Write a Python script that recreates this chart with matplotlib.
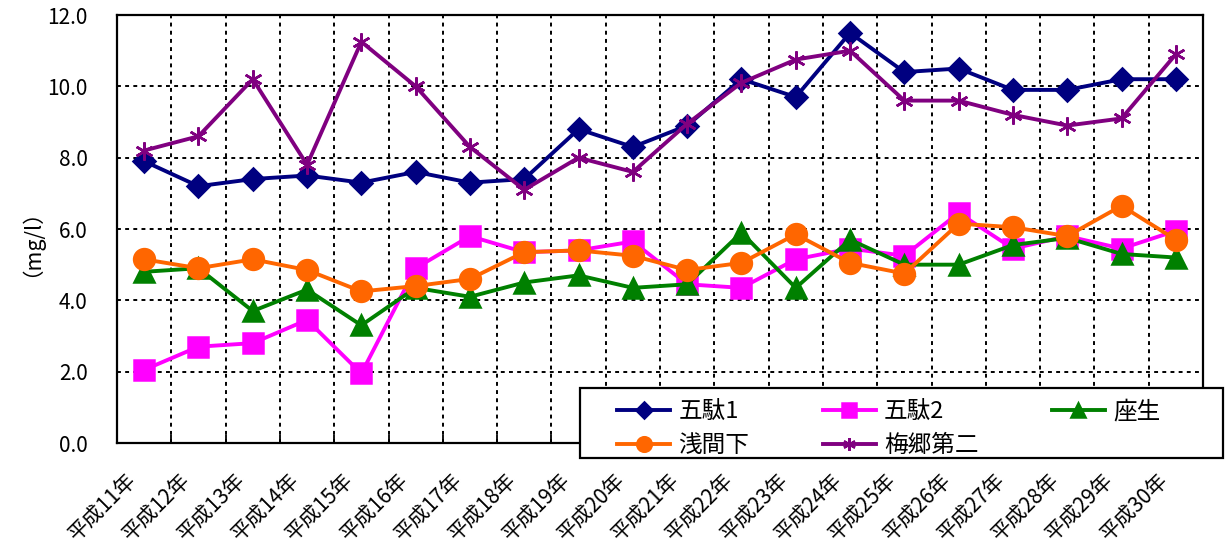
import numpy as np
import matplotlib
matplotlib.use('Agg')
import matplotlib.pyplot as plt
import matplotlib.transforms as mtrans
from matplotlib.patches import Rectangle

plt.rcParams['font.family'] = ['Noto Sans CJK JP', 'DejaVu Sans']

years = ['平成%d年' % y for y in range(11, 31)]

goda1 = [7.9, 7.2, 7.4, 7.5, 7.3, 7.6, 7.3, 7.4, 8.8, 8.3,
         8.9, 10.2, 9.7, 11.5, 10.4, 10.5, 9.9, 9.9, 10.2, 10.2]
goda2 = [2.05, 2.7, 2.8, 3.45, 1.95, 4.9, 5.8, 5.35, 5.4, 5.65,
         4.45, 4.35, 5.15, 5.45, 5.25, 6.45, 5.45, 5.8, 5.45, 5.95]
zaoi = [4.8, 4.9, 3.7, 4.3, 3.3, 4.35, 4.1, 4.5, 4.7, 4.35,
        4.45, 5.9, 4.35, 5.7, 5.0, 5.0, 5.55, 5.75, 5.3, 5.2]
asamashita = [5.15, 4.9, 5.15, 4.85, 4.25, 4.4, 4.6, 5.35, 5.4, 5.25,
              4.85, 5.05, 5.85, 5.05, 4.75, 6.15, 6.05, 5.8, 6.65, 5.7]
umesato2 = [8.2, 8.6, 10.2, 7.8, 11.25, 10.0, 8.3, 7.1, 8.0, 7.6,
            8.95, 10.1, 10.75, 11.0, 9.6, 9.6, 9.2, 8.9, 9.1, 10.9]

names = ['五駄1', '五駄2', '座生', '浅間下', '梅郷第二']
series = [goda1, goda2, zaoi, asamashita, umesato2]
colors = ['#000080', '#FF00FF', '#008000', '#FF6600', '#800080']
markers = ['D', 's', '^', 'o', (6, 2, 0)]
msizes = [11, 14, 15, 15, 13]

fig = plt.figure(figsize=(12.25, 5.45), dpi=100)
ax = fig.add_axes([117/1225, 102/545, 1086/1225, 428/545])

x = np.arange(len(years))
lines = []
for vals, name, c, m, ms in zip(series, names, colors, markers, msizes):
    ln, = ax.plot(x, vals, color=c, marker=m, markersize=ms, linewidth=2.8,
                  markerfacecolor=c, markeredgecolor=c, markeredgewidth=1.8,
                  label=name, clip_on=False)
    lines.append(ln)

ax.set_xlim(-0.5, len(years) - 0.5)
ax.set_ylim(0, 12)
ax.set_yticks(np.arange(0, 12.1, 2))
ax.set_yticklabels(['%.1f' % v for v in np.arange(0, 12.1, 2)], fontsize=15)
ax.set_xticks(x)
ax.set_xticklabels(years, fontsize=15, rotation=45, ha='right', va='top',
                   rotation_mode='anchor')
ax.set_xticks(np.arange(-0.5, len(years), 1), minor=True)
ax.tick_params(axis='x', which='major', length=0, pad=18.5)
ax.tick_params(axis='x', which='minor', direction='in', length=6, width=1.3)
ax.tick_params(axis='y', length=0, pad=21)
# labels sit a little left of the category centre, as in the original
shift = mtrans.ScaledTranslation(-19/100, 0, fig.dpi_scale_trans)
for lab in ax.get_xticklabels():
    lab.set_transform(lab.get_transform() + shift)

dash = (0, (2, 2.2))
ax.grid(which='minor', axis='x', color='black', linestyle=dash, linewidth=1.4)
ax.grid(which='major', axis='y', color='black', linestyle=dash, linewidth=1.4)
ax.set_axisbelow(True)
for s in ax.spines.values():
    s.set_linewidth(1.6)
    s.set_color('black')

fig.text(20/1225, 1 - 232/545, '（mg/l）', rotation=90, fontsize=15.5,
         ha='center', va='center')

# legend frame drawn separately so it can be wider than its contents
fig.patches.append(Rectangle((580/1225, 1 - 458/545), 643/1225, 70/545,
                             transform=fig.transFigure, facecolor='white',
                             edgecolor='black', linewidth=1.6, zorder=4))
order = [0, 3, 1, 4, 2]
fig.legend([lines[i] for i in order], [names[i] for i in order],
           loc='upper left', bbox_to_anchor=(603/1225, 1 - 386/545),
           ncol=3, frameon=False, fontsize=17, markerscale=0.7,
           handlelength=2.25, handletextpad=0.35, columnspacing=3.1,
           labelspacing=0.45, borderpad=0.1)

fig.savefig('out.png', dpi=100)
